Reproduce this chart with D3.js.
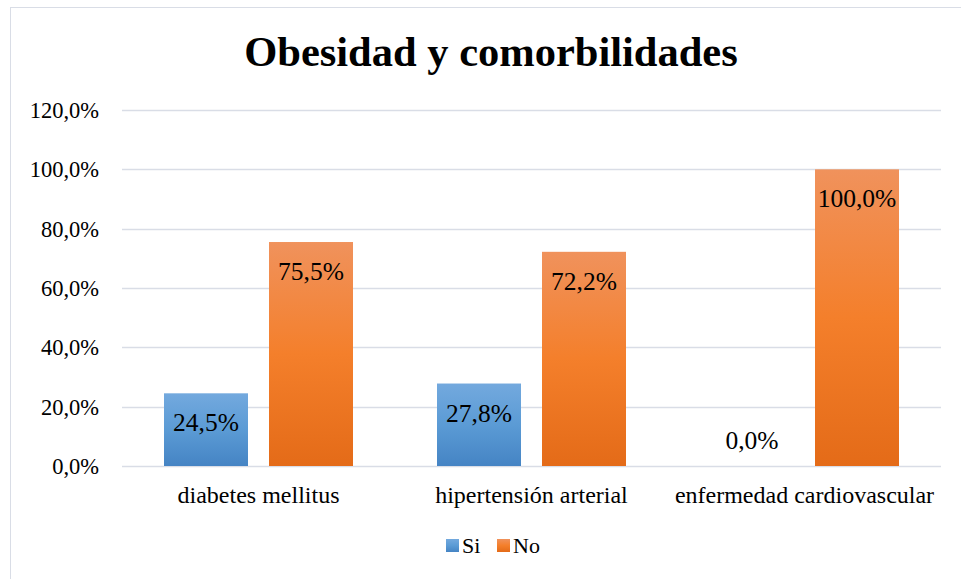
<!DOCTYPE html>
<html>
<head>
<meta charset="utf-8">
<script src="https://cdn.jsdelivr.net/npm/d3@7"></script>
<style>
  body { margin: 0; background: #fff; }
  svg text { font-family: "Liberation Serif", serif; fill: #000; }
</style>
</head>
<body>
<svg class="chart-svg"></svg>
<script>
const categories = ["diabetes mellitus", "hipertensión arterial", "enfermedad cardiovascular"];
const seriesNames = ["Si", "No"];
const siValues = [24.5, 27.8, 0.0];
const noValues = [75.5, 72.2, 100.0];
const yTicks = [0, 20, 40, 60, 80, 100, 120];

const WIDTH = 961;
const HEIGHT = 579;
const FONT = "Liberation Serif";

const svg = d3.select(".chart-svg").attr("width", WIDTH).attr("height", HEIGHT);

// chart border (only left/top visible in the picture)
svg.append("rect")
  .attr("x", 10.5).attr("y", 7.5)
  .attr("width", 980).attr("height", 600)
  .attr("fill", "none")
  .attr("stroke", "#d9dde6")
  .attr("stroke-width", 1);

const defs = svg.append("defs");
const gradients = [
  { id: "grad-si", stops: ["#73a9de", "#5b9bd5", "#4584c4"] },
  { id: "grad-no", stops: ["#f0925c", "#f47f2b", "#e46b18"] }
];
gradients.forEach(g => {
  const lg = defs.append("linearGradient")
    .attr("id", g.id)
    .attr("x1", 0).attr("y1", 0).attr("x2", 0).attr("y2", 1);
  lg.append("stop").attr("offset", "0%").attr("stop-color", g.stops[0]);
  lg.append("stop").attr("offset", "50%").attr("stop-color", g.stops[1]);
  lg.append("stop").attr("offset", "100%").attr("stop-color", g.stops[2]);
});

const data = categories.map((c, i) => ({
  category: c,
  values: [
    { series: "Si", value: siValues[i] },
    { series: "No", value: noValues[i] }
  ]
}));

const x0 = d3.scaleBand()
  .domain(categories)
  .range([122, 941])
  .paddingInner(0)
  .paddingOuter(0);

const x1 = d3.scaleBand()
  .domain(seriesNames)
  .range([42, x0.bandwidth() - 42])
  .paddingInner(0.2);

const y = d3.scaleLinear()
  .domain([0, 120])
  .range([466, 110]);

const fmt = v => v.toFixed(1).replace(".", ",") + "%";

// gridlines
svg.append("g")
  .selectAll("line")
  .data(yTicks)
  .join("line")
  .attr("x1", 122).attr("x2", 941)
  .attr("y1", d => Math.round(y(d)) + 0.5)
  .attr("y2", d => Math.round(y(d)) + 0.5)
  .attr("stroke", "#d9dde6")
  .attr("stroke-width", 1.3);

// y axis
const yAxis = d3.axisLeft(y)
  .tickValues(yTicks)
  .tickSize(0)
  .tickPadding(0)
  .tickFormat(fmt);

svg.append("g")
  .attr("transform", "translate(99,0)")
  .call(yAxis)
  .attr("font-family", FONT)
  .call(g => g.select(".domain").remove())
  .selectAll(".tick text")
  .attr("font-size", 22.5)
  .attr("dy", "0.33em");

// x axis labels
const xAxis = d3.axisBottom(x0).tickSize(0).tickPadding(0);
svg.append("g")
  .attr("transform", "translate(0,503)")
  .call(xAxis)
  .attr("font-family", FONT)
  .call(g => g.select(".domain").remove())
  .selectAll(".tick text")
  .attr("font-size", 24)
  .attr("y", 0)
  .attr("dy", 0);

// bars
const groups = svg.append("g")
  .selectAll("g")
  .data(data)
  .join("g")
  .attr("transform", d => `translate(${x0(d.category)},0)`);

groups.selectAll("rect")
  .data(d => d.values)
  .join("rect")
  .attr("x", d => x1(d.series))
  .attr("width", x1.bandwidth())
  .attr("y", d => y(d.value))
  .attr("height", d => y(0) - y(d.value))
  .attr("fill", d => d.series === "Si" ? "url(#grad-si)" : "url(#grad-no)");

groups.selectAll("text")
  .data(d => d.values)
  .join("text")
  .attr("x", d => x1(d.series) + x1.bandwidth() / 2)
  .attr("y", d => d.value > 5 ? y(d.value) + 38 : y(d.value) - 17)
  .attr("text-anchor", "middle")
  .attr("font-size", 25.5)
  .text(d => fmt(d.value));

// title
svg.append("text")
  .attr("x", 491)
  .attr("y", 66)
  .attr("text-anchor", "middle")
  .attr("font-size", 42.5)
  .attr("font-weight", "bold")
  .text("Obesidad y comorbilidades");

// legend
const legend = svg.append("g").attr("transform", "translate(446,553)");
const legendItems = legend.selectAll("g")
  .data(seriesNames)
  .join("g")
  .attr("transform", (d, i) => `translate(${i * 51},0)`);

legendItems.append("rect")
  .attr("x", 0).attr("y", -14)
  .attr("width", 13).attr("height", 13)
  .attr("fill", (d, i) => i === 0 ? "url(#grad-si)" : "url(#grad-no)");

legendItems.append("text")
  .attr("x", 16)
  .attr("y", 0)
  .attr("font-size", 22)
  .text(d => d);
</script>
</body>
</html>
